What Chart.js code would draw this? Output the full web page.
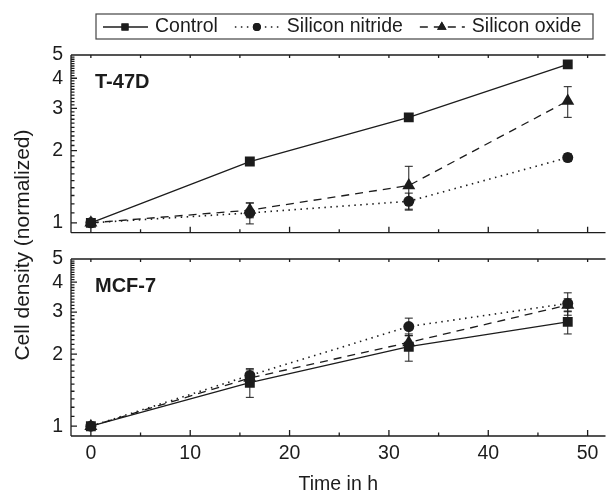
<!DOCTYPE html>
<html>
<head>
<meta charset="utf-8">
<script src="https://cdn.jsdelivr.net/npm/chart.js@4.4.1/dist/chart.umd.min.js"></script>
<style>
  body { margin: 0; background: #fff; }
  canvas { position: absolute; left: 0; top: 0; }
</style>
</head>
<body>
<canvas id="cBot" width="613" height="494"></canvas>
<canvas id="cTop" width="613" height="494"></canvas>
<script>
// time points (h) and series names
const hours = [0, 16, 32, 48];
const seriesNames = ['Control', 'Silicon nitride', 'Silicon oxide'];

// T-47D, normalized cell density and error
const t47Control = [1, 1.80, 2.75, 4.57];
const t47ControlErr = [0, 0.03, 0.08, 0.06];
const t47Nitride = [1, 1.10, 1.23, 1.87];
const t47NitrideErr = [0, 0.11, 0.10, 0.07];
const t47Oxide = [1, 1.13, 1.43, 3.22];
const t47OxideErr = [0, 0.08, 0.29, 0.47];

// MCF-7
const mcfControl = [1, 1.52, 2.15, 2.73];
const mcfControlErr = [0, 0.20, 0.28, 0.30];
const mcfNitride = [1, 1.63, 2.61, 3.26];
const mcfNitrideErr = [0, 0.11, 0.22, 0.35];
const mcfOxide = [1, 1.59, 2.24, 3.21];
const mcfOxideErr = [0, 0.08, 0.15, 0.20];

// tick labels
const xTicks = [0, 10, 20, 30, 40, 50];
const yTicks = [1, 2, 3, 4, 5];

const ink = '#1c1c1c';
const fontFamily = '"Liberation Sans", Arial, Helvetica, sans-serif';
Chart.defaults.font.family = fontFamily;
Chart.defaults.color = ink;

// line / marker look of each series
const looks = [
  { pointStyle: 'rect', radius: 7, legendRadius: 5, dash: [], width: 1.3 },
  { pointStyle: 'circle', radius: 5.5, legendRadius: 4, dash: [1.5, 4.5], width: 1.6 },
  { pointStyle: 'triangle', radius: 7.5, legendRadius: 5.5, dash: [8, 6], width: 1.3 }
];

function makeSets(vals, errs) {
  return vals.map((v, i) => ({
    label: seriesNames[i],
    data: hours.map((h, j) => ({ x: h, y: v[j] })),
    errors: errs[i],
    legendRadius: looks[i].legendRadius,
    borderColor: ink,
    backgroundColor: ink,
    borderWidth: looks[i].width,
    borderDash: looks[i].dash,
    pointStyle: looks[i].pointStyle,
    pointRadius: looks[i].radius,
    pointBorderWidth: 0,
    tension: 0
  }));
}

// vertical error bars with caps
const errorBars = {
  id: 'errorBars',
  afterDatasetsDraw(chart) {
    const { ctx, scales: { x, y } } = chart;
    ctx.save();
    ctx.strokeStyle = ink;
    ctx.lineWidth = 1;
    chart.data.datasets.forEach(ds => {
      ds.data.forEach((p, j) => {
        const e = ds.errors[j];
        if (!e) return;
        const px = x.getPixelForValue(p.x);
        const top = y.getPixelForValue(p.y + e);
        const bot = y.getPixelForValue(p.y - e);
        ctx.beginPath();
        ctx.moveTo(px, top); ctx.lineTo(px, bot);
        ctx.moveTo(px - 4, top); ctx.lineTo(px + 4, top);
        ctx.moveTo(px - 4, bot); ctx.lineTo(px + 4, bot);
        ctx.stroke();
      });
    });
    ctx.restore();
  }
};

// box frame, inward ticks and the panel name
const frame = {
  id: 'frame',
  afterDraw(chart, args, opts) {
    const { ctx, chartArea: a, scales: { x, y } } = chart;
    ctx.save();
    ctx.strokeStyle = ink;
    ctx.lineWidth = 1.3;
    ctx.beginPath();
    ctx.moveTo(a.left, a.top); ctx.lineTo(a.right, a.top);
    ctx.moveTo(a.left, a.bottom); ctx.lineTo(a.right, a.bottom);
    ctx.moveTo(a.left, a.top); ctx.lineTo(a.left, a.bottom);
    for (let t = 0; t <= x.max; t += 5) {
      const px = x.getPixelForValue(t);
      const len = t % 10 === 0 ? 6 : 3.5;
      ctx.moveTo(px, a.bottom); ctx.lineTo(px, a.bottom - len);
      ctx.moveTo(px, a.top); ctx.lineTo(px, a.top + 3);
    }
    for (let k = 10; k <= 50; k++) {
      const py = y.getPixelForValue(k / 10);
      const len = k % 10 === 0 ? 6 : 3.5;
      ctx.moveTo(a.left, py); ctx.lineTo(a.left + len, py);
    }
    ctx.stroke();
    ctx.fillStyle = ink;
    ctx.font = 'bold 20px ' + fontFamily;
    ctx.textBaseline = 'middle';
    ctx.fillText(opts.label, a.left + 24, a.top + 27);
    ctx.restore();
  }
};

// boxed legend with line samples
const lineLegend = {
  id: 'lineLegend',
  afterDraw(chart, args, opts) {
    if (!opts.show) return;
    const ctx = chart.ctx;
    const b = opts.box;
    ctx.save();
    ctx.strokeStyle = '#444';
    ctx.lineWidth = 1.2;
    ctx.strokeRect(b.left, b.top, b.width, b.height);
    ctx.font = '19.5px ' + fontFamily;
    ctx.textBaseline = 'middle';
    ctx.fillStyle = ink;
    const cy = b.top + b.height / 2 + 0.5;
    let xPos = b.left + 7;
    chart.data.datasets.forEach(ds => {
      ctx.strokeStyle = ink;
      ctx.lineWidth = ds.borderWidth;
      ctx.setLineDash(ds.borderDash);
      ctx.beginPath();
      ctx.moveTo(xPos, cy); ctx.lineTo(xPos + 45, cy);
      ctx.stroke();
      ctx.setLineDash([]);
      Chart.helpers.drawPoint(ctx, { pointStyle: ds.pointStyle, radius: ds.legendRadius, rotation: 0, borderWidth: 0 }, xPos + 22, cy);
      ctx.fillStyle = ink;
      ctx.fill();
      xPos += 52;
      ctx.fillText(ds.label, xPos, cy);
      xPos += ctx.measureText(ds.label).width + 17;
    });
    ctx.restore();
  }
};

// rotated y title spanning both panels
const yTitle = {
  id: 'yTitle',
  afterDraw(chart, args, opts) {
    if (!opts.text) return;
    const ctx = chart.ctx;
    ctx.save();
    ctx.translate(opts.x, opts.y);
    ctx.rotate(-Math.PI / 2);
    ctx.font = '21px ' + fontFamily;
    ctx.fillStyle = ink;
    ctx.textAlign = 'center';
    ctx.textBaseline = 'middle';
    ctx.fillText(opts.text, 0, 0);
    ctx.restore();
  }
};

function panel(canvasId, sets, o) {
  return new Chart(document.getElementById(canvasId), {
    type: 'line',
    data: { datasets: sets },
    options: {
      responsive: false,
      animation: false,
      layout: { padding: { top: o.padTop, bottom: o.padBottom, left: 0, right: 0 } },
      scales: {
        x: {
          type: 'linear',
          min: -2,
          max: 51.8,
          grid: { display: false, drawTicks: false },
          border: { display: false },
          ticks: { display: o.xLabels, padding: 6, font: { size: 19.5 } },
          afterBuildTicks: s => { s.ticks = xTicks.map(v => ({ value: v })); },
          afterFit: s => { s.height = o.xHeight; },
          title: {
            display: o.xLabels,
            text: 'Time in h',
            font: { size: 19.5, lineHeight: 1 },
            padding: 0
          }
        },
        y: {
          type: 'logarithmic',
          min: 0.91,
          max: 5,
          grid: { display: false, drawTicks: false },
          border: { display: false },
          ticks: { padding: 8, font: { size: 19.5 }, callback: v => String(v) },
          afterBuildTicks: s => { s.ticks = yTicks.map(v => ({ value: v })); },
          afterFit: s => { s.width = 71; }
        }
      },
      plugins: {
        legend: { display: false },
        tooltip: { enabled: false },
        frame: { label: o.label },
        lineLegend: { show: o.legend, box: { left: 96, top: 14, width: 497, height: 25 } },
        yTitle: o.yTitle
      }
    },
    plugins: [errorBars, frame, lineLegend, yTitle]
  });
}

panel('cTop',
  makeSets([t47Control, t47Nitride, t47Oxide], [t47ControlErr, t47NitrideErr, t47OxideErr]),
  { label: 'T-47D', padTop: 55, padBottom: 249, xHeight: 12.3, xLabels: false, legend: true, yTitle: {} });

panel('cBot',
  makeSets([mcfControl, mcfNitride, mcfOxide], [mcfControlErr, mcfNitrideErr, mcfOxideErr]),
  { label: 'MCF-7', padTop: 259, padBottom: 0, xHeight: 58, xLabels: true, legend: false,
    yTitle: { text: 'Cell density (normalized)', x: 23, y: 245 } });
</script>
</body>
</html>
